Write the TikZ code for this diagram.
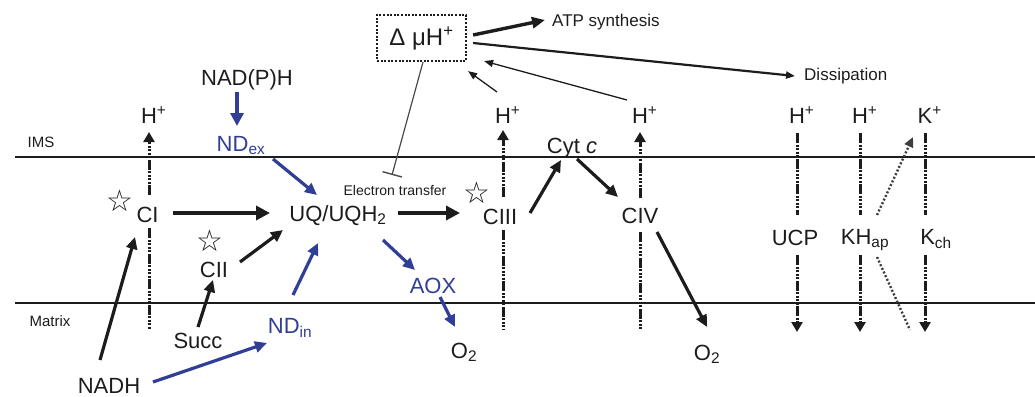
\documentclass[tikz,border=0pt]{standalone}
\usepackage{fontspec}
\setmainfont{Liberation Sans}
\newfontfamily\djv{DejaVu Sans}
\usetikzlibrary{arrows.meta}
\definecolor{nblue}{RGB}{48,62,150}
\definecolor{ink}{RGB}{28,28,28}
\begin{document}
\begin{tikzpicture}[x=1pt,y=-1pt,
  lbl/.style={inner sep=0pt, anchor=base, font=\fontsize{22}{24}\selectfont, text=ink},
  blbl/.style={lbl, text=nblue},
  smalllbl/.style={inner sep=0pt, anchor=base, font=\fontsize{15}{17}\selectfont, text=ink},
  starlbl/.style={inner sep=0pt, font=\djv\fontsize{30}{32}\selectfont, text=ink},
  bigarr/.style={line width=4.6pt, draw=ink, -{Triangle[length=14pt,width=14pt]}},
  arr/.style={line width=3.2pt, draw=ink, -{Triangle[length=12pt,width=11pt]}},
  bluearr/.style={line width=3.2pt, draw=nblue, -{Triangle[length=12pt,width=11pt]}},
  bigbluearr/.style={line width=4.4pt, draw=nblue, -{Triangle[length=13pt,width=13pt]}},
  thinarr/.style={line width=1.3pt, draw=ink, -{Triangle[length=9pt,width=7pt]}},
  chan/.style={line width=3pt, draw=ink, dash pattern=on 10pt off 1.5pt on 2pt off 1.5pt on 2pt off 1.5pt on 2pt off 1.5pt on 2pt off 1.5pt},
  chanarr/.style={chan, -{Triangle[length=10pt,width=11pt]}},
  kdot/.style={line width=2.4pt, draw=ink!85, dash pattern=on 2pt off 2pt},
  membrane/.style={line width=1.6pt, draw=ink}
]
\useasboundingbox (0,0) rectangle (1035,396);

% membranes
\draw[membrane] (15,157) -- (1035,157);
\draw[membrane] (15,303) -- (1035,303);

% labels
\node[smalllbl] (ims) at (41,147) {IMS};
\node[smalllbl] (matrix) at (50,326) {Matrix};
\node[draw=ink, line width=2.2pt, dash pattern=on 2pt off 1.6pt, minimum width=89pt, minimum height=46pt, inner sep=0pt, font=\fontsize{24}{26}\selectfont, text=ink] (dmu) at (421.5,38) {Δ μH\textsuperscript{+}};
\node[inner sep=0pt, anchor=base west, font=\fontsize{17}{19}\selectfont, text=ink] (atp) at (552,27) {ATP synthesis};
\node[inner sep=0pt, anchor=base west, font=\fontsize{17}{19}\selectfont, text=ink] (diss) at (804,80) {Dissipation};
\node[inner sep=0pt, anchor=base, font=\fontsize{14}{16}\selectfont, text=ink] (et) at (395,195) {Electron transfer};

\node[lbl] (nadph) at (247,85) {NAD(P)H};
\node[blbl] (ndex) at (241,151) {ND\textsubscript{ex}};
\node[lbl] (uq) at (338,221) {UQ/UQH\textsubscript{2}};
\node[blbl] (ndin) at (290,333) {ND\textsubscript{in}};
\node[blbl] (aox) at (433,293) {AOX};
\node[lbl] (o2a) at (464,358) {O\textsubscript{2}};
\node[lbl] (o2b) at (707,360) {O\textsubscript{2}};
\node[lbl] (succ) at (198,348) {Succ};
\node[lbl] (nadh) at (109,393) {NADH};
\node[lbl] (cI) at (147.5,222) {CI};
\node[lbl] (cII) at (214,277) {CII};
\node[lbl] (cIII) at (500,224) {CIII};
\node[lbl] (cIV) at (640,223) {CIV};
\node[lbl] (cytc) at (572,153) {Cyt \textit{c}};
\node[lbl] (ucp) at (795,245) {UCP};
\node[lbl] (khap) at (865,244) {KH\textsubscript{ap}};
\node[lbl] (kch) at (936,244) {K\textsubscript{ch}};

\node[starlbl] (sI) at (120,201) {☆};
\node[starlbl] (sII) at (210,241) {☆};
\node[starlbl] (sIII) at (477,193) {☆};

\node[lbl] (hI) at (149,123) {H\rlap{\textsuperscript{+}}};
\node[lbl] (hIII) at (503,123) {H\rlap{\textsuperscript{+}}};
\node[lbl] (hIV) at (640,123) {H\rlap{\textsuperscript{+}}};
\node[lbl] (hU) at (797,123) {H\rlap{\textsuperscript{+}}};
\node[lbl] (hK) at (860,123) {H\rlap{\textsuperscript{+}}};
\node[lbl] (kK) at (925,123) {K\rlap{\textsuperscript{+}}};

% free ends of channels
\coordinate (eI) at (149,330);
\coordinate (eIII) at (503,330);
\coordinate (eIV) at (640,330);
\coordinate (eU) at (797,332);
\coordinate (eK) at (860,332);
\coordinate (eKc) at (925,332);
\coordinate (eKd) at (910,330);

% delta muH+ connections
\draw[line width=3.4pt, draw=ink, -{Triangle[length=13pt,width=11pt]}] ([xshift=6pt,yshift=3pt]dmu.east) -- ([xshift=-7pt,yshift=7pt]atp.base west);
\draw[line width=2.2pt, draw=ink, -{Triangle[length=9pt,width=7pt]}] ([xshift=6pt,yshift=-5pt]dmu.east) -- ([xshift=-9pt,yshift=4pt]diss.base west);
\draw[thinarr] ([xshift=-13pt,yshift=23pt]hIV.base) -- ([xshift=17pt,yshift=1pt]dmu.south east);
\draw[thinarr] ([xshift=-6pt,yshift=31pt]hIII.base) -- ([xshift=1pt,yshift=-9pt]dmu.south east);
\draw[line width=1.2pt, draw=ink!80, -{Bar[width=20pt,line width=1.4pt]}] ([xshift=1.5pt]dmu.south) -- ([xshift=-3pt,yshift=20pt]et.base);

% electron transport
\draw[bigbluearr] ([xshift=-10pt,yshift=-7pt]nadph.base) -- ([xshift=-4pt,yshift=25pt]ndex.base);
\draw[bluearr] ([xshift=32pt,yshift=-8pt]ndex.base) -- ([xshift=-21pt,yshift=26pt]uq.base);
\draw[bigarr] ([xshift=25.5pt,yshift=9pt]cI.base) -- ([xshift=-68pt,yshift=8pt]uq.base);
\draw[bigarr] ([xshift=60pt,yshift=8pt]uq.base) -- ([xshift=-40pt,yshift=11pt]cIII.base);
\draw[arr] ([xshift=-9pt,yshift=33pt]nadh.base) -- ([xshift=-12.5pt,yshift=-15pt]cI.base);
\draw[bluearr] ([xshift=44pt,yshift=11pt]nadh.base) -- ([xshift=-23pt,yshift=-10pt]ndin.base);
\draw[arr] ([yshift=21pt]succ.base) -- ([xshift=-1pt,yshift=-3pt]cII.base);
\draw[arr] ([xshift=26pt,yshift=15pt]cII.base) -- ([xshift=-55pt,yshift=-9pt]uq.base);
\draw[bluearr] ([xshift=3pt,yshift=38pt]ndin.base) -- ([xshift=-20pt,yshift=-22pt]uq.base);
\draw[bluearr] ([xshift=45pt,yshift=-19pt]uq.base) -- ([xshift=-18pt,yshift=23pt]aox.base);
\draw[bluearr] ([xshift=7pt,yshift=-4pt]aox.base) -- ([xshift=-9pt,yshift=31pt]o2a.base);
\draw[arr] ([xshift=30pt,yshift=11pt]cIII.base) -- ([xshift=-11pt,yshift=-7pt]cytc.base);
\draw[arr] ([xshift=5pt,yshift=-6pt]cytc.base) -- ([xshift=-22pt,yshift=26pt]cIV.base);
\draw[arr] ([xshift=17pt,yshift=-9pt]cIV.base) -- ([yshift=33pt]o2b.base);

% proton pumping channels
\draw[chanarr] ([xshift=1.5pt,yshift=27pt]cI.base) -- ([yshift=-9pt]hI.base);
\draw[chan] ([xshift=1.5pt,yshift=-6pt]cI.base) -- (eI);
\draw[chanarr] ([xshift=3pt,yshift=27pt]cIII.base) -- ([yshift=-7pt]hIII.base);
\draw[chan] ([xshift=3pt,yshift=-6pt]cIII.base) -- (eIII);
\draw[chanarr] ([yshift=25pt]cIV.base) -- ([yshift=-9pt]hIV.base);
\draw[chan] ([yshift=-9pt]cIV.base) -- (eIV);

% dissipating channels
\draw[chan] ([yshift=-10pt]hU.base) -- ([xshift=2pt,yshift=30pt]ucp.base);
\draw[chanarr] ([xshift=2pt,yshift=-10pt]ucp.base) -- (eU);
\draw[chan] ([yshift=-10pt]hK.base) -- ([xshift=-5pt,yshift=29pt]khap.base);
\draw[chanarr] ([xshift=-5pt,yshift=-11pt]khap.base) -- (eK);
\draw[chan] ([yshift=-10pt]kK.base) -- ([xshift=-11pt,yshift=29pt]kch.base);
\draw[chanarr] ([xshift=-11pt,yshift=-11pt]kch.base) -- (eKc);
\draw[kdot, -{Triangle[length=10pt,width=9pt]}] ([xshift=12pt,yshift=29pt]khap.base) -- ([xshift=-12pt,yshift=-14pt]kK.base);
\draw[kdot] ([xshift=12pt,yshift=-13pt]khap.base) -- (eKd);
\end{tikzpicture}
\end{document}
